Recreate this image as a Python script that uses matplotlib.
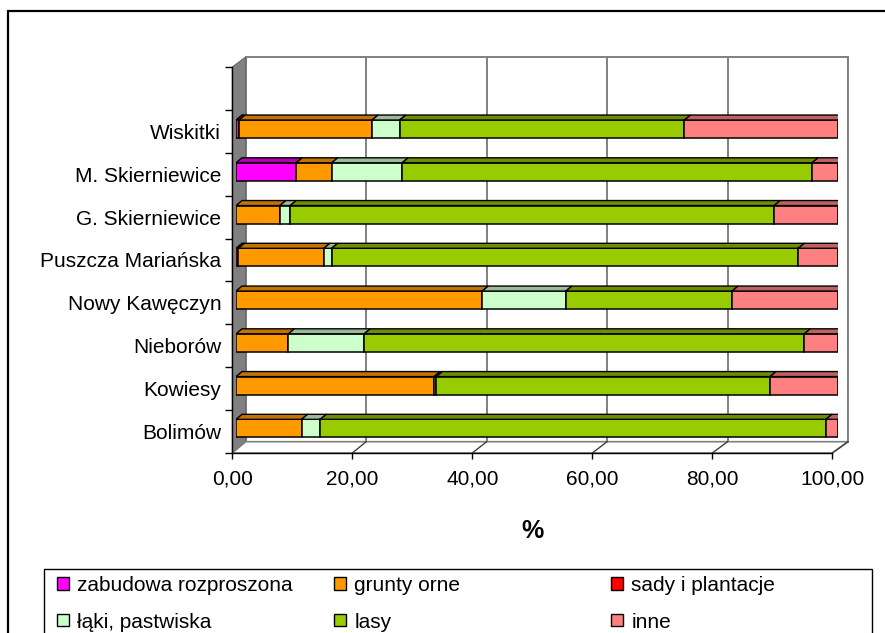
import matplotlib
matplotlib.use('Agg')
import matplotlib.pyplot as plt
from matplotlib.patches import Polygon, Rectangle, Patch
from matplotlib.lines import Line2D
import numpy as np

plt.rcParams['font.family'] = ['Liberation Sans', 'DejaVu Sans']

# ---------------- data ----------------
categories = ['Bolimów', 'Kowiesy', 'Nieborów', 'Nowy Kawęczyn',
              'Puszcza Mariańska', 'G. Skierniewice', 'M. Skierniewice', 'Wiskitki']
zabudowa = [0.0, 0.0, 0.0, 0.0, 0.4, 0.0, 10.0, 0.5]
grunty = [10.9, 32.9, 8.7, 40.9, 14.2, 7.3, 5.9, 22.1]
sady = [0.0, 0.0, 0.0, 0.0, 0.0, 0.0, 0.0, 0.0]
laki = [3.1, 0.4, 12.6, 13.9, 1.3, 1.7, 11.7, 4.6]
lasy = [84.0, 55.4, 73.1, 27.6, 77.5, 80.4, 68.1, 47.3]
inne = [2.0, 11.3, 5.6, 17.6, 6.6, 10.6, 4.3, 25.5]
series_names = ['zabudowa rozproszona', 'grunty orne', 'sady i plantacje',
                'łąki, pastwiska', 'lasy', 'inne']
xticks = [0, 20, 40, 60, 80, 100]
xtick_labels = ['0,00', '20,00', '40,00', '60,00', '80,00', '100,00']
xlabel = '%'

series = [zabudowa, grunty, sady, laki, lasy, inne]
face_colors = ['#FF00FF', '#FF9900', '#FF0000', '#CCFFCC', '#99CC00', '#FF8080']
top_colors = ['#B000B0', '#C47300', '#B00000', '#99BB99', '#6B8F00', '#C06060']
side_color = '#804040'

W, H = 885, 633
fig = plt.figure(figsize=(W / 100, H / 100), dpi=100)


def frect(x0, x1, ytop, ybot):
    return [x0 / W, 1 - ybot / H, (x1 - x0) / W, (ybot - ytop) / H]


ncat = len(categories)
ylo, yhi = -0.5, ncat + 0.5  # one empty slot on top

# back wall
ax_back = fig.add_axes(frect(245.7, 848, 57, 441.7))
ax_back.set_xlim(0, 100)
ax_back.set_ylim(ylo, yhi)
ax_back.set_facecolor('white')
ax_back.set_xticks(xticks)
ax_back.set_yticks([])
ax_back.tick_params(length=0, labelbottom=False)
ax_back.grid(axis='x', color='#808080', lw=1.4)
for s in ax_back.spines.values():
    s.set_color('#808080')
    s.set_linewidth(1.4)
ax_back.set_zorder(0)

# front axis plane
ax_front = fig.add_axes(frect(232.3, 832.3, 67, 453))
ax_front.set_xlim(0, 100)
ax_front.set_ylim(ylo, yhi)
ax_front.patch.set_visible(False)
ax_front.spines['top'].set_visible(False)
ax_front.spines['right'].set_visible(False)
ax_front.spines['left'].set_linewidth(1.0)
ax_front.spines['bottom'].set_linewidth(1.0)
ax_front.set_xticks(xticks, xtick_labels)
ax_front.tick_params(axis='x', length=4, width=1, pad=8, labelsize=15)
ax_front.set_yticks(np.arange(ylo, yhi + 0.01, 1.0))
ax_front.set_yticklabels([])
ax_front.set_yticks(np.arange(ncat), categories, minor=True)
ax_front.tick_params(axis='y', which='major', length=5, width=1)
ax_front.tick_params(axis='y', which='minor', length=0, pad=8, labelsize=15)
ax_front.set_xlabel(xlabel, fontsize=18, fontweight='bold', labelpad=22)
ax_front.set_zorder(1)

# side wall and floor (in display space between front and back planes)
to_fig = fig.transFigure.inverted()


def F(x, y):
    return to_fig.transform(ax_front.transData.transform((x, y)))


def B(x, y):
    return to_fig.transform(ax_back.transData.transform((x, y)))


wall = Polygon([F(0, ylo), F(0, yhi), B(0, yhi), B(0, ylo)], closed=True,
               facecolor='#808080', edgecolor='#6a6a6a', lw=0.8,
               transform=fig.transFigure, zorder=0.5)
fig.add_artist(wall)
floor = Polygon([F(0, ylo), F(100, ylo), B(100, ylo), B(0, ylo)], closed=True,
                facecolor='white', edgecolor='#808080', lw=1.2,
                transform=fig.transFigure, zorder=0.5)
fig.add_artist(floor)
for xt in xticks[1:]:
    p0, p1 = F(xt, ylo), B(xt, ylo)
    fig.add_artist(Line2D([p0[0], p1[0]], [p0[1], p1[1]], color='#404040', lw=1.0,
                          transform=fig.transFigure, zorder=0.6))

# bar plane
ax_bar = fig.add_axes(frect(236, 838, 64.9, 449.7))
ax_bar.set_xlim(0, 100)
ax_bar.set_ylim(ylo, yhi)
ax_bar.axis('off')
ax_bar.set_zorder(2)

px_per_x = 602 / 100.0
px_per_y = (449.7 - 64.9) / (yhi - ylo)
bar_h = 18 / px_per_y
dxd = 6 / px_per_x
dyd = 5 / px_per_y

ypos = np.arange(ncat)
left = np.zeros(ncat)
for j, vals in enumerate(series):
    vals = np.array(vals, dtype=float)
    ax_bar.barh(ypos, vals, left=left, height=bar_h, color=face_colors[j],
                edgecolor='black', linewidth=1.1, zorder=2)
    for i in range(ncat):
        if vals[i] <= 0:
            continue
        x0, x1 = left[i], left[i] + vals[i]
        yt = ypos[i] + bar_h / 2
        top = Polygon([(x0, yt), (x1, yt), (x1 + dxd, yt + dyd), (x0 + dxd, yt + dyd)],
                      closed=True, facecolor=top_colors[j], edgecolor='black',
                      lw=1.0, zorder=2)
        ax_bar.add_patch(top)
    left = left + vals

# right side faces of the stacks
for i in range(ncat):
    x1 = left[i]
    yb = ypos[i] - bar_h / 2
    yt = ypos[i] + bar_h / 2
    side = Polygon([(x1, yb), (x1, yt), (x1 + dxd, yt + dyd), (x1 + dxd, yb + dyd)],
                   closed=True, facecolor=side_color, edgecolor='black', lw=1.0, zorder=2)
    ax_bar.add_patch(side)

# outer chart border
fig.add_artist(Rectangle((8 / W, -0.2), 1.2, (1 - 11 / H) + 0.2, fill=False,
                         edgecolor='black', lw=1.6, transform=fig.transFigure))
# legend frame
fig.add_artist(Rectangle((44 / W, -0.2), (872 - 44) / W, (1 - 569 / H) + 0.2, fill=False,
                         edgecolor='black', lw=1.0, transform=fig.transFigure))

handles = [Patch(facecolor=c, edgecolor='black', lw=1.0) for c in face_colors]
cols = [(0, 3), (1, 4), (2, 5)]
col_x = [57, 334, 611]
for (a, b), cx in zip(cols, col_x):
    leg = fig.legend([handles[a], handles[b]], [series_names[a], series_names[b]],
                     loc='upper left', bbox_to_anchor=(cx / W, 1 - 576 / H),
                     frameon=False, fontsize=15, borderpad=0, borderaxespad=0,
                     handlelength=0.58, handleheight=0.53, handletextpad=0.4,
                     labelspacing=0.85)

fig.savefig('out.png', dpi=100)
